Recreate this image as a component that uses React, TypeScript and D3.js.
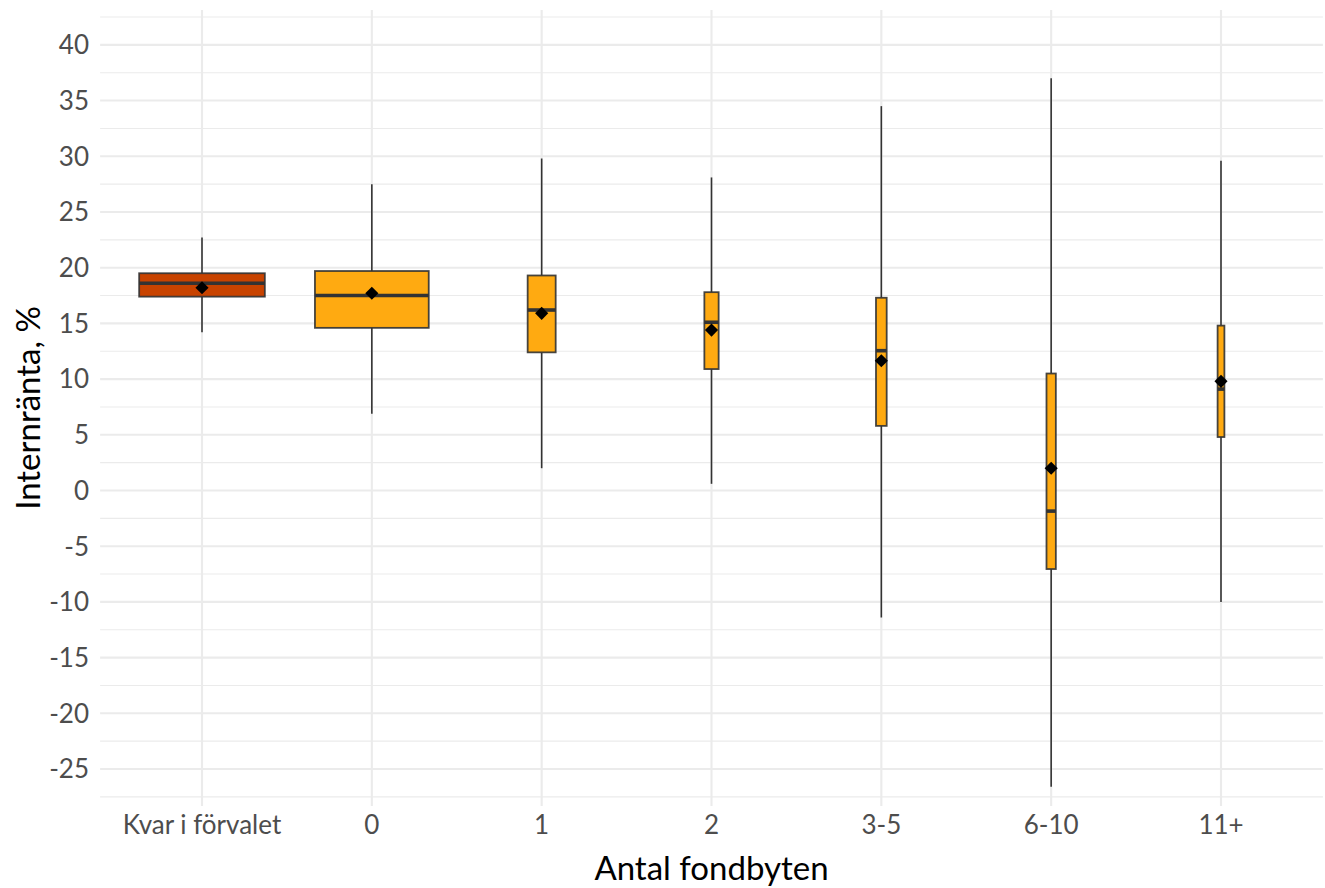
import React from "react";
import * as d3 from "d3";

const categories = ["Kvar i förvalet", "0", "1", "2", "3-5", "6-10", "11+"];
const whiskerHigh = [22.7, 27.5, 29.8, 28.1, 34.5, 37.0, 29.6];
const q3 = [19.5, 19.7, 19.3, 17.8, 17.3, 10.5, 14.8];
const median = [18.6, 17.5, 16.2, 15.1, 12.55, -1.85, 9.1];
const q1 = [17.4, 14.6, 12.4, 10.9, 5.8, -7.05, 4.8];
const whiskerLow = [14.2, 6.9, 2.0, 0.6, -11.4, -26.6, -10.0];
const means = [18.2, 17.7, 15.9, 14.4, 11.65, 2.0, 9.8];
// relative box width (varwidth, ~ sqrt(n))
const relWidth = [0.74, 0.67, 0.165, 0.084, 0.063, 0.055, 0.04];
const yTicks = [-25, -20, -15, -10, -5, 0, 5, 10, 15, 20, 25, 30, 35, 40];
const yMinor = [-27.5, -22.5, -17.5, -12.5, -7.5, -2.5, 2.5, 7.5, 12.5, 17.5, 22.5, 27.5, 32.5, 37.5, 42.5];

const W = 1325;
const H = 888;
const FONT = "Lato, 'Open Sans', sans-serif";

export default function App() {
  const step = (1221 - 202) / 6;
  const x = d3
    .scalePoint<string>()
    .domain(categories)
    .range([202, 1221]);
  const y = d3.scaleLinear().domain([-28.32, 43.13]).range([806, 10]);
  const left = 202 - 0.6 * step;
  const right = 1221 + 0.6 * step;
  const top = 10;
  const bottom = 806;

  return (
    <svg
      width={W}
      height={H}
      style={{ position: "absolute", left: 0, top: 0, background: "#fff" }}
      fontFamily={FONT}
    >
      {/* grid */}
      {yMinor.map((v) => (
        <line key={"mi" + v} x1={left} x2={right} y1={y(v)} y2={y(v)} stroke="#EBEBEB" strokeWidth={1.1} />
      ))}
      {yTicks.map((v) => (
        <line key={"ma" + v} x1={left} x2={right} y1={y(v)} y2={y(v)} stroke="#EBEBEB" strokeWidth={2.1} />
      ))}
      {categories.map((c) => (
        <line key={"vg" + c} x1={x(c)} x2={x(c)} y1={top} y2={bottom} stroke="#EBEBEB" strokeWidth={2.1} />
      ))}

      {/* boxes */}
      {categories.map((c, i) => {
        const cx = x(c) as number;
        const bw = relWidth[i] * step;
        const fill = i === 0 ? "#C84300" : "#FFAA11";
        return (
          <g key={"b" + c}>
            <line x1={cx} x2={cx} y1={y(whiskerHigh[i])} y2={y(q3[i])} stroke="#333333" strokeWidth={1.6} />
            <line x1={cx} x2={cx} y1={y(q1[i])} y2={y(whiskerLow[i])} stroke="#333333" strokeWidth={1.6} />
            <rect
              x={cx - bw / 2}
              y={y(q3[i])}
              width={bw}
              height={y(q1[i]) - y(q3[i])}
              fill={fill}
              stroke="#333333"
              strokeOpacity={0.9}
              strokeWidth={1.8}
            />
            <line
              x1={cx - bw / 2}
              x2={cx + bw / 2}
              y1={y(median[i])}
              y2={y(median[i])}
              stroke="#333333"
              strokeWidth={3.6}
            />
            <path
              d={d3.symbol(d3.symbolDiamond2, 110)() as string}
              transform={`translate(${cx},${y(means[i])}) rotate(0)`}
              fill="#000"
            />
          </g>
        );
      })}

      {/* y tick labels */}
      {yTicks.map((v) => (
        <text
          key={"yt" + v}
          x={89}
          y={y(v)}
          dy="0.36em"
          textAnchor="end"
          fontSize={26}
          fill="#4D4D4D"
        >
          {v}
        </text>
      ))}
      {/* x tick labels */}
      {categories.map((c) => (
        <text key={"xt" + c} x={x(c)} y={834} textAnchor="middle" fontSize={26} fill="#4D4D4D">
          {c}
        </text>
      ))}
      {/* axis titles */}
      <text x={(left + right) / 2} y={880} textAnchor="middle" fontSize={33} fill="#000">
        Antal fondbyten
      </text>
      <text
        transform={`translate(40,${(top + bottom) / 2}) rotate(-90)`}
        textAnchor="middle"
        fontSize={33}
        fill="#000"
      >
        Internränta, %
      </text>
    </svg>
  );
}
